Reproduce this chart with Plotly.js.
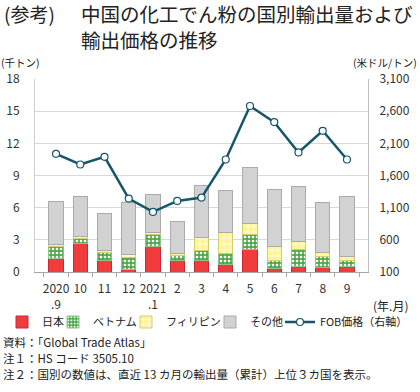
<!DOCTYPE html>
<html><head><meta charset="utf-8">
<script src="https://cdn.plot.ly/plotly-3.0.1.min.js"></script>
<style>html,body{margin:0;padding:0;background:#fff}#chart{width:420px;height:392px}</style>
</head><body><div id="chart"></div>
<script>
const months = ['2020<br>.9','10','11','12','2021<br>.1','2','3','4','5','6','7','8','9'];
const japan = [1.25,2.65,1.03,0.25,2.34,1.06,1.09,0.72,2.09,0.31,0.56,0.44,0.56];
const vietnam = [1.15,0.45,0.75,1.09,1.18,0.47,0.93,0.99,1.40,0.78,1.53,0.96,0.53];
const philippines = [0.20,0.23,0.22,0.28,0.18,0.21,1.18,1.99,1.03,1.31,0.71,0.41,0.31];
const others = [3.97,3.67,3.50,4.83,3.50,2.96,4.90,3.93,5.23,5.30,5.20,4.70,5.60];
const fob = [1937,1771,1891,1242,1034,1205,1257,1849,2680,2430,1958,2295,1849];
const leftTicks = [0,3,6,9,12,15,18];
const rightTicks = [100,600,1100,1600,2100,2600,3100];

const F = '"Noto Sans CJK JP", "Noto Sans", sans-serif';
const traces = [
  {type:'bar', name:'日本', x:months, y:japan, legend:'legend',
   marker:{color:'#f03c3c', line:{color:'#c8283a', width:1}}},
  {type:'bar', name:'ベトナム', x:months, y:vietnam, legend:'legend2',
   marker:{color:'#5aaa4a', line:{color:'#8cc48c', width:1},
     pattern:{shape:'.', fgcolor:'#ffffff', bgcolor:'#4ea84a', size:4, solidity:0.35}}},
  {type:'bar', name:'フィリピン', x:months, y:philippines, legend:'legend3',
   marker:{color:'#fff59a', line:{color:'#d8cc70', width:1},
     pattern:{shape:'+', fgcolor:'#ffffff', bgcolor:'#fff490', size:6, solidity:0.25}}},
  {type:'bar', name:'その他', x:months, y:others, legend:'legend4',
   marker:{color:'#d2d2d2', line:{color:'#ababab', width:1}}},
  {type:'scatter', mode:'lines+markers', name:'FOB価格（右軸）', x:months, y:fob, yaxis:'y2', legend:'legend5',
   line:{color:'#15566a', width:2.5},
   marker:{color:'#ffffff', size:7, line:{color:'#15566a', width:1.2}}}
];

function leg(px){return {xref:'container', yref:'container', x:px/420, y:1-322/392, xanchor:'left', yanchor:'middle', orientation:'h',
  font:{family:F, size:11, color:'#222'}, bgcolor:'rgba(0,0,0,0)', itemwidth:30, visible:true};}

function ann(text, px, py, xanchor, size){
  return {text:text, xref:'paper', yref:'paper', x:(px-35)/333, y:(272-py)/193, xanchor:xanchor, yanchor:'middle',
    showarrow:false, align:'left', borderpad:0, font:{family:F, size:size, color:'#222'}};
}

const layout = {
  width:420, height:392,
  margin:{l:35, r:52, t:79, b:120, autoexpand:false},
  paper_bgcolor:'#fff', plot_bgcolor:'#fff',
  barmode:'stack', bargap:0.42, showlegend:true,
  font:{family:F, size:12, color:'#333'},
  xaxis:{type:'category', showline:true, linecolor:'#a6a6a6', linewidth:1, tickangle:0,
    ticks:'outside', tickson:'boundaries', ticklen:4, tickcolor:'#a6a6a6',
    tickfont:{family:F, size:12, color:'#333'}, ticklabelstandoff:6, showgrid:false},
  yaxis:{range:[0,18], tickvals:leftTicks, showline:true, linecolor:'#d0d0d0',
    gridcolor:'#d9d9d9', gridwidth:1, zeroline:false, ticks:'', ticklabelstandoff:12,
    tickfont:{family:F, size:12, color:'#333'}},
  yaxis2:{overlaying:'y', side:'right', range:[100,3100], tickvals:rightTicks, tickformat:',d',
    showline:true, linecolor:'#bfbfbf', showgrid:false, zeroline:false, ticks:'', ticklabelstandoff:8,
    tickfont:{family:F, size:12, color:'#333'}},
  legend:leg(2),
  legend2:leg(53),
  legend3:leg(126),
  legend4:leg(210),
  legend5:leg(280),
  annotations:[
    ann('(参考)', 3, 14, 'left', 19),
    ann('中国の化工でん粉の国別輸出量および', 80, 14, 'left', 19.5),
    ann('輸出価格の推移', 80, 39.5, 'left', 19.5),
    ann('(千トン)', 0, 63, 'left', 10.5),
    ann('(米ドル/トン)', 418, 63, 'right', 10.5),
    ann('(年.月)', 372, 305, 'left', 12),
    ann('資料：「Global Trade Atlas」', 2, 342, 'left', 11.5),
    ann('注１：HS コード 3505.10', 2, 358, 'left', 11.5),
    ann('注２：国別の数値は、直近 13 カ月の輸出量（累計）上位３カ国を表示。', 2, 373.5, 'left', 11.5)
  ]
};
Plotly.newPlot('chart', traces, layout, {displayModeBar:false, staticPlot:true});
</script></body></html>
